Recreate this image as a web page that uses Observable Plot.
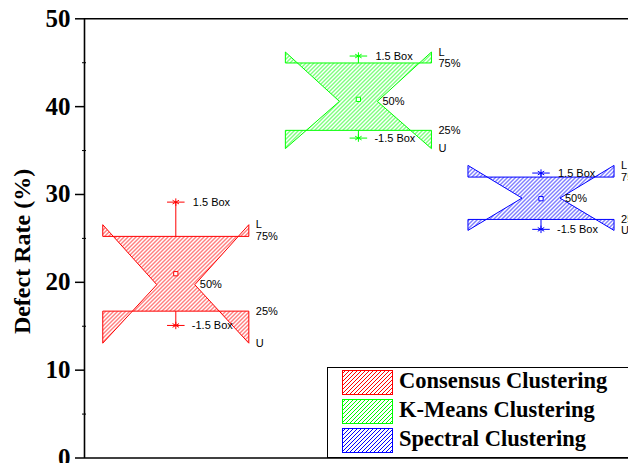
<!DOCTYPE html>
<html><head><meta charset="utf-8">
<script src="https://cdn.jsdelivr.net/npm/d3@7"></script>
<script src="https://cdn.jsdelivr.net/npm/@observablehq/plot@0.6"></script>
<style>
html,body{margin:0;padding:0;overflow:hidden;background:#fff;}
#wrap{position:relative;width:628px;height:463px;overflow:hidden;}
#legend{position:absolute;left:326.5px;top:366.5px;width:330px;height:91px;border:1.5px solid #000;box-sizing:border-box;background:#fff;}
.row{position:absolute;left:14px;height:25px;display:flex;align-items:center;}
.row svg{display:block;flex:none;}
.row span{font:bold 22.5px "Liberation Serif","Times New Roman",serif;margin-left:6.6px;white-space:nowrap;color:#000;position:relative;top:-1.5px;}
</style></head><body>
<div id="wrap"></div>
<script>
// ---- data ----
const groups = ["Consensus Clustering", "K-Means Clustering", "Spectral Clustering"];
const colors = ["#ff0000", "#00ff00", "#0000ff"];
const boxPos = [1, 2, 3];
const upperL = [26.56, 46.22, 33.31];     // "L"
const q75 = [25.23, 44.97, 31.98];        // 75%
const median = [19.73, 40.60, 29.59];     // 50%
const q25 = [16.72, 37.30, 27.16];        // 25%
const lowerU = [13.07, 35.22, 25.91];     // "U"
const meanVal = [20.98, 40.83, 29.52];
const whiskerHigh = [29.13, 45.76, 32.44]; // 1.5 Box
const whiskerLow = [15.09, 36.42, 26.03];  // -1.5 Box
const yTicks = [0, 10, 20, 30, 40, 50];
const yMinor = [5, 15, 25, 35, 45];
const labelHigh = "1.5 Box", labelLow = "-1.5 Box", labelMed = "50%";
const labelL = "L", label75 = "75%", label25 = "25%", labelU = "U";
const yTitle = "Defect Rate (%)";

// ---- patterns ----
const NS = "http://www.w3.org/2000/svg";
const defsSvg = document.createElementNS(NS, "svg");
defsSvg.setAttribute("width", 0); defsSvg.setAttribute("height", 0);
defsSvg.style.position = "absolute";
defsSvg.innerHTML = "<defs>" + colors.map((c, i) =>
  `<pattern id="hatch${i}" patternUnits="userSpaceOnUse" width="4" height="4">
     <path d="M-1,1 L1,-1 M0,4 L4,0 M3,5 L5,3" stroke="${c}" stroke-width="1" shape-rendering="crispEdges"/>
   </pattern>`).join("") + "</defs>";
document.body.appendChild(defsSvg);

// ---- derived geometry ----
const HW = 0.4, NW = 0.104, CW = 0.048;
const boxes = groups.map((g, i) => ({
  g, i, color: colors[i], pat: `url(#hatch${i})`, c: boxPos[i],
  T: upperL[i], q3: q75[i], m: median[i], q1: q25[i], B: lowerU[i],
  mean: meanVal[i], wh: whiskerHigh[i], wl: whiskerLow[i],
  L: boxPos[i] - HW, R: boxPos[i] + HW, nl: boxPos[i] - NW, nr: boxPos[i] + NW
}));
const xAt = (x0, y0, x1, y1, y) => x0 + (x1 - x0) * (y - y0) / (y1 - y0);

const marks = [];
boxes.forEach(b => {
  const ulx = xAt(b.L, b.T, b.nl, b.m, b.q3), urx = xAt(b.R, b.T, b.nr, b.m, b.q3);
  const llx = xAt(b.L, b.B, b.nl, b.m, b.q1), lrx = xAt(b.R, b.B, b.nr, b.m, b.q1);
  const shapes = [
    [[b.L, b.T], [b.L, b.q3], [ulx, b.q3]],
    [[b.R, b.T], [b.R, b.q3], [urx, b.q3]],
    [[b.L, b.q1], [b.L, b.B], [llx, b.q1]],
    [[b.R, b.q1], [b.R, b.B], [lrx, b.q1]],
    [[ulx, b.q3], [b.nl, b.m], [llx, b.q1], [lrx, b.q1], [b.nr, b.m], [urx, b.q3]]
  ];
  const poly = [];
  shapes.forEach((s, k) => s.forEach(([x, y]) => poly.push({id: k, x, y})));
  marks.push(Plot.line(poly, {x: "x", y: "y", z: "id", fill: b.pat, stroke: "none"}));
  const segs = [
    [b.L, b.q3, b.R, b.q3], [b.L, b.q1, b.R, b.q1],
    [b.L, b.T, b.L, b.q3], [b.L, b.q1, b.L, b.B],
    [b.R, b.T, b.R, b.q3], [b.R, b.q1, b.R, b.B],
    [b.L, b.T, b.nl, b.m], [b.L, b.B, b.nl, b.m],
    [b.R, b.T, b.nr, b.m], [b.R, b.B, b.nr, b.m],
    [b.c, b.q3, b.c, b.wh], [b.c, b.q1, b.c, b.wl],
    [b.c - CW, b.wh, b.c + CW, b.wh], [b.c - CW, b.wl, b.c + CW, b.wl]
  ].map(([x1, y1, x2, y2]) => ({x1, y1, x2, y2}));
  marks.push(Plot.link(segs, {x1: "x1", y1: "y1", x2: "x2", y2: "y2", stroke: b.color, strokeWidth: 1}));
  marks.push(Plot.dot([b, b], {x: "c", y: (d, j) => j ? d.wl : d.wh, symbol: "asterisk", r: 3.5, stroke: b.color, strokeWidth: 1}));
  marks.push(Plot.dot([b], {x: "c", y: "mean", symbol: "square", r: 2.4, stroke: b.color, fill: "white", strokeWidth: 1}));
});

const lab = {fontSize: 11, fontFamily: "'Liberation Sans', Arial, sans-serif", fill: "black", textAnchor: "start"};
marks.push(
  Plot.text(boxes, {x: "c", y: "wh", text: () => labelHigh, dx: 17, ...lab}),
  Plot.text(boxes, {x: "c", y: "wl", text: () => labelLow, dx: 16, ...lab}),
  Plot.text(boxes, {x: "nr", y: "m", text: () => labelMed, dx: 5, ...lab}),
  Plot.text(boxes, {x: "R", y: "T", text: () => labelL, dx: 7, ...lab}),
  Plot.text(boxes, {x: "R", y: "q3", text: () => label75, dx: 7, ...lab}),
  Plot.text(boxes, {x: "R", y: "q1", text: () => label25, dx: 7, ...lab}),
  Plot.text(boxes, {x: "R", y: "B", text: () => labelU, dx: 7, ...lab})
);

const serif = "'Liberation Serif', 'Times New Roman', serif";
const chart = Plot.plot({
  width: 628, height: 463,
  marginLeft: 84, marginRight: 0, marginTop: 18, marginBottom: 5,
  style: "overflow:hidden;background:white;",
  x: {domain: [0.5, 3.5], range: [84, 631.8], axis: null},
  y: {domain: [0, 50], range: [457.5, 18.3], label: null},
  marks: [
    ...marks,
    Plot.ruleX([0.5], {stroke: "black", strokeWidth: 1.6}),
    Plot.ruleY([0, 50], {stroke: "black", strokeWidth: 1.6}),
    Plot.axisY({ticks: yTicks, tickSize: 9, tickPadding: 5, tickFormat: d => String(d), fontSize: 25, fontWeight: "bold", fontFamily: serif, strokeWidth: 1.5, label: null, color: "black"}),
    Plot.axisY({ticks: yMinor, tickSize: 4, dx: 2, tickFormat: () => "", strokeWidth: 1, label: null}),
    Plot.text([yTitle], {text: d => d, frameAnchor: "left", rotate: -90, dx: -62, dy: 13, fontSize: 24, fontWeight: "bold", fontFamily: serif, textAnchor: "middle", fill: "black"})
  ]
});
const wrap = document.getElementById("wrap");
wrap.appendChild(chart);

// ---- legend (inside the plot area) ----
const legend = document.createElement("div");
legend.id = "legend";
groups.forEach((g, i) => {
  const row = document.createElement("div");
  row.className = "row";
  row.style.top = (2 + i * 29) + "px";
  row.innerHTML = `<svg width="51" height="25"><rect x="0.5" y="0.5" width="50" height="24" fill="url(#hatch${i})" stroke="${colors[i]}" stroke-width="1"/></svg><span>${g}</span>`;
  legend.appendChild(row);
});
wrap.appendChild(legend);
</script></body></html>
